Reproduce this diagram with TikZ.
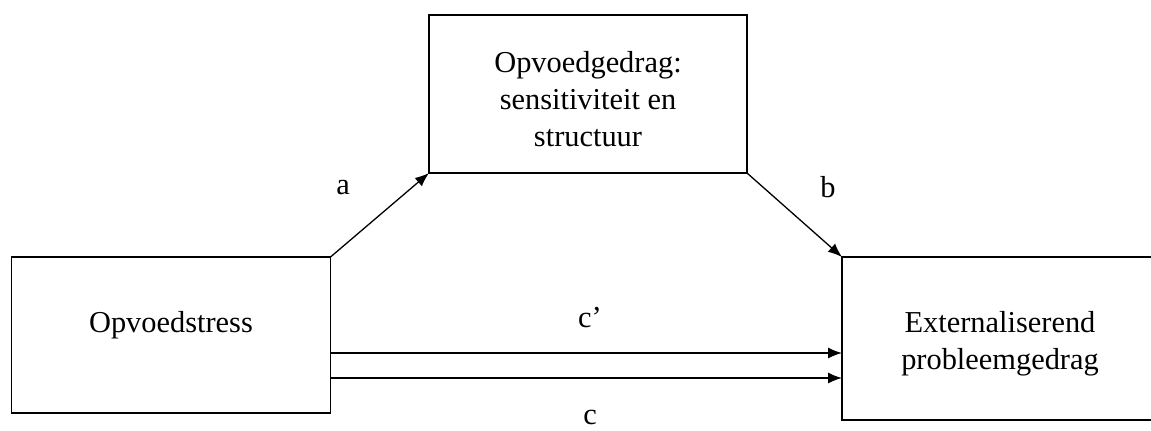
\documentclass[tikz,border=0pt]{standalone}
\usepackage{fontspec}
\setmainfont{Liberation Serif}
\usetikzlibrary{arrows.meta}
\begin{document}
\begin{tikzpicture}[x=0.5pt,y=-0.5pt,
  box/.style={draw, line width=0.75pt, inner sep=0pt, outer sep=0pt},
  txt/.style={inner sep=0pt, align=center, font=\fontsize{15.2}{18.6}\selectfont},
  lbl/.style={inner sep=0pt, font=\fontsize{15.2}{18.5}\selectfont},
  arr/.style={line width=0.65pt, -{Latex[length=7pt,width=5.5pt]}}]
\useasboundingbox (0,0) rectangle (1151,430);
\node[box, minimum width=159.5pt, minimum height=78pt] (L) at (171,335) {};
\node[box, minimum width=159pt, minimum height=79pt] (T) at (588,94) {};
\node[box, minimum width=158pt, minimum height=81.5pt] (R) at (1000,338.5) {};
\node[txt] (Lt) at (171,325) {Opvoedstress};
\node[txt] (Tt) at (588,99) {Opvoedgedrag:\\sensitiviteit en\\structuur};
\node[txt] (Rt) at (1000,344) {Externaliserend\\probleemgedrag};
\draw[arr] (L.north east) -- (T.south west);
\draw[arr] (T.south east) -- (R.north west);
\draw[arr] (L.east |- 0,353) -- (R.west |- 0,353);
\draw[arr] (L.east |- 0,378) -- (R.west |- 0,378);
\node[lbl] (la) at (343,188) {a};
\node[lbl] (lb) at (828,187) {b};
\node[lbl] (lcp) at (590,318) {c’};
\node[lbl] (lc) at (590,417) {c};
\end{tikzpicture}
\end{document}
